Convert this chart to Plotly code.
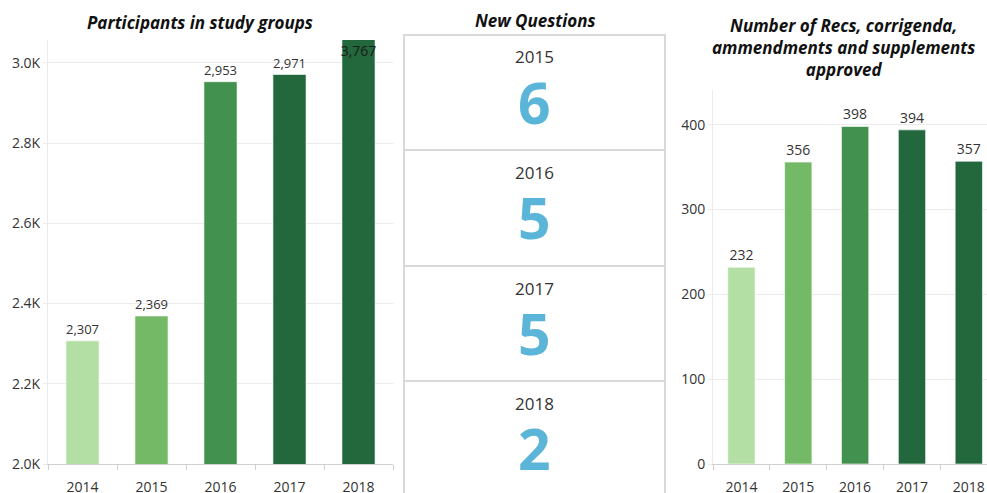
import plotly.graph_objects as go

# ---------------- data ----------------
years = ["2014", "2015", "2016", "2017", "2018"]
participants = [2307, 2369, 2953, 2971, 3767]
recs = [232, 356, 398, 394, 357]
bar_colors = ["#b3dfa5", "#74b966", "#43914e", "#23683c", "#23683c"]

q_years = ["2015", "2016", "2017", "2018"]
new_questions = [6, 5, 5, 2]

left_ticks = [2000, 2200, 2400, 2600, 2800, 3000]
left_ticktext = ["2.0K", "2.2K", "2.4K", "2.6K", "2.8K", "3.0K"]
left_range = [2000, 3057]
right_ticks = [0, 100, 200, 300, 400]
right_range = [0, 441]

left_title = "Participants in study groups"
mid_title = "New Questions"
right_title = "Number of Recs, corrigenda,<br>ammendments and supplements<br>approved"

# ---------------- layout helpers ----------------
W, H = 987, 493
MB = 29
PH = H - MB  # paper height in pixels


def px(x):
    return x / W


def py(y):
    return (PH - y) / PH


FONT = "Open Sans"
TXT = "#333333"
GRID = "#ebebeb"
AXL = "#d0d0d0"

fig = go.Figure()

in_range = [v <= left_range[1] for v in participants]
left_text = [f"{v:,}" if ok else "" for v, ok in zip(participants, in_range)]
fig.add_trace(go.Bar(
    x=years, y=participants, xaxis="x", yaxis="y",
    marker=dict(color=bar_colors, line=dict(color="rgba(255,255,255,0.6)", width=1)),
    text=left_text, textposition="outside",
    textfont=dict(family=FONT, size=14, color=TXT),
    cliponaxis=True, showlegend=False, hoverinfo="x+y",
))
# labels for bars running past the top of the axis: inside, just below the top edge
label_pad = 0.012 * (left_range[1] - left_range[0])
over_x = [yr for yr, ok in zip(years, in_range) if not ok]
over_t = [f"{v:,}" for v, ok in zip(participants, in_range) if not ok]
fig.add_trace(go.Scatter(
    x=over_x, y=[left_range[1] - label_pad] * len(over_x), xaxis="x", yaxis="y",
    mode="text", text=over_t, textposition="bottom center",
    textfont=dict(family=FONT, size=14, color="#1a1a1a"),
    cliponaxis=False, showlegend=False, hoverinfo="skip",
))

fig.add_trace(go.Bar(
    x=years, y=recs, xaxis="x2", yaxis="y2",
    marker=dict(color=bar_colors, line=dict(color="rgba(255,255,255,0.6)", width=1)),
    text=[f"{v:,}" for v in recs], textposition="outside",
    textfont=dict(family=FONT, size=14, color=TXT),
    cliponaxis=False, showlegend=False, hoverinfo="x+y",
))

axis_common = dict(
    showgrid=False, showline=True, linecolor=AXL, linewidth=1,
    ticks="outside", tickson="boundaries", ticklen=5, tickcolor=AXL,
    ticklabelstandoff=10,
    tickfont=dict(family=FONT, size=14, color=TXT), fixedrange=True,
)
yaxis_common = dict(
    showgrid=True, gridcolor=GRID, gridwidth=1, zeroline=False,
    showline=True, linecolor=GRID, linewidth=1,
    ticks="outside", ticklen=4, tickcolor=GRID,
    tickfont=dict(family=FONT, size=14, color=TXT), fixedrange=True,
)

fig.update_layout(
    width=W, height=H,
    margin=dict(l=0, r=0, t=0, b=MB, autoexpand=False),
    paper_bgcolor="white", plot_bgcolor="white",
    bargap=0.52,
    xaxis=dict(domain=[px(48), px(393)], anchor="y", range=[-0.5, 4.5], **axis_common),
    yaxis=dict(domain=[0, py(40)], anchor="x", range=left_range,
               tickvals=left_ticks, ticktext=left_ticktext, **yaxis_common),
    xaxis2=dict(domain=[px(713), 1.0], anchor="y2", range=[-0.5, 4.32], **axis_common),
    yaxis2=dict(domain=[0, py(90)], anchor="x2", range=right_range,
                tickvals=right_ticks, **yaxis_common),
)

# ---- middle panel: boxes ----
box_tops = [35, 150, 266, 381]
box_bottoms = [150, 266, 381, 500]
for top, bot in zip(box_tops, box_bottoms):
    fig.add_shape(type="rect", xref="paper", yref="paper",
                  x0=px(404), x1=px(665), y0=py(bot), y1=py(top),
                  line=dict(color="#d9d9d9", width=2), fillcolor="rgba(0,0,0,0)")

cx = px(534.5)
for top, yr, val in zip(box_tops, q_years, new_questions):
    fig.add_annotation(xref="paper", yref="paper", x=cx, y=py(top + 22),
                       xanchor="center", yanchor="middle",
                       text=yr, showarrow=False,
                       font=dict(family=FONT, size=17, color=TXT))
    fig.add_annotation(xref="paper", yref="paper", x=cx, y=py(top + 67),
                       xanchor="center", yanchor="middle",
                       text=f"<b>{val}</b>", showarrow=False,
                       font=dict(family=FONT, size=57, color="#5bb5d8"))

# ---- titles ----
title_font = dict(family=FONT, size=17, color="#111111")
fig.add_annotation(xref="paper", yref="paper", x=px(200), y=py(22),
                   xanchor="center", yanchor="middle",
                   text=f"<b><i>{left_title}</i></b>", showarrow=False, font=title_font)
fig.add_annotation(xref="paper", yref="paper", x=px(535), y=py(21),
                   xanchor="center", yanchor="middle",
                   text=f"<b><i>{mid_title}</i></b>", showarrow=False, font=title_font)
fig.add_annotation(xref="paper", yref="paper", x=px(843), y=py(48),
                   xanchor="center", yanchor="middle",
                   text=f"<b><i>{right_title}</i></b>", showarrow=False,
                   font=title_font, align="center")

fig.write_html("out.html", config={"displayModeBar": False},
               post_script="document.body.style.margin='0';document.body.style.overflow='hidden';")
